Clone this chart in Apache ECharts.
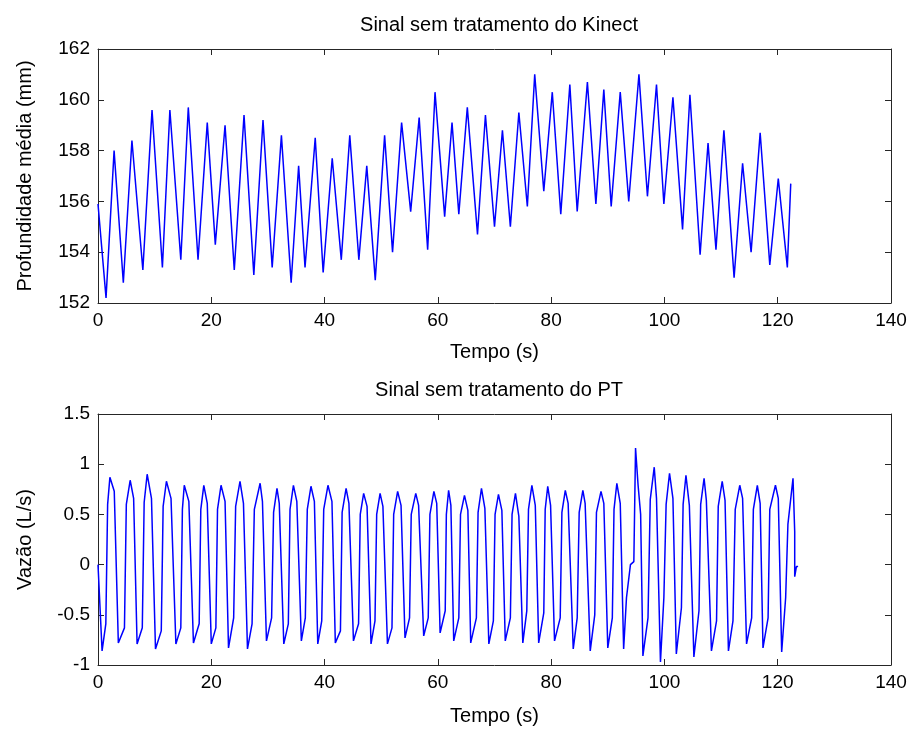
<!DOCTYPE html>
<html>
<head>
<meta charset="utf-8">
<script src="https://cdn.jsdelivr.net/npm/echarts@6/dist/echarts.min.js"></script>
<style>
  html, body { margin: 0; padding: 0; background: #fff; }
  #chart { width: 916px; height: 735px; }
</style>
</head>
<body>
<div id="chart"></div>
<script>
// Kinect signal: turning points (time s, depth mm)
const kinectT = [0, 1.42, 2.84, 4.47, 5.99, 7.92, 9.54, 11.37, 12.69, 14.62, 15.94, 17.66, 19.29, 20.71, 22.43, 24.06, 25.78, 27.51, 29.13, 30.75,
  32.38, 34.1, 35.42, 36.55, 38.35, 39.75, 41.35, 42.95, 44.45, 46.05, 47.45, 48.95, 50.6, 52.0, 53.6, 55.2, 56.7, 58.2, 59.5, 61.2,
  62.5, 63.7, 65.2, 67.0, 68.4, 70.0, 71.4, 72.8, 74.3, 75.8, 77.1, 78.7, 80.2, 81.7, 83.3, 84.6, 86.4, 87.9, 89.3, 90.6,
  92.2, 93.7, 95.5, 97.0, 98.6, 99.9, 101.5, 103.2, 104.5, 106.3, 107.7, 109.1, 110.5, 112.3, 113.8, 115.3, 116.9, 118.6, 120.1, 121.7, 122.3]
const kinectV = [155.9, 152.2, 158.0, 152.8, 158.4, 153.3, 159.6, 153.4, 159.6, 153.7, 159.7, 153.7, 159.1, 154.3, 159.0, 153.3, 159.4, 153.1, 159.2, 153.4,
  158.6, 152.8, 157.4, 153.4, 158.5, 153.2, 157.7, 153.7, 158.6, 153.7, 157.4, 152.9, 158.6, 154.0, 159.1, 155.6, 159.3, 154.1, 160.3, 155.4,
  159.1, 155.5, 159.7, 154.7, 159.4, 155.0, 158.8, 155.0, 159.5, 155.8, 161.0, 156.4, 160.3, 155.5, 160.6, 155.6, 160.7, 155.9, 160.4, 155.8,
  160.3, 156.0, 161.0, 156.2, 160.6, 155.9, 160.1, 154.9, 160.2, 153.9, 158.3, 154.1, 158.8, 153.0, 157.5, 154.0, 158.7, 153.5, 156.9, 153.4, 156.7]

// PT signal: corners of each cycle (time s, flow L/s)
// per cycle: trough, end of bottom plateau, top of the steep rise, peak, end of top plateau
const ptT = [0,
  0.72, 1.38, 1.7, 2.1, 2.87,
  3.59, 4.67, 5.0, 5.68, 6.29,
  6.9, 7.82, 8.15, 8.68, 9.44,
  10.15, 11.17, 11.5, 12.08, 12.89,
  13.75, 14.62, 14.9, 15.23, 16.04,
  16.85, 17.86, 18.15, 18.68, 19.29,
  20.0, 20.81, 21.1, 21.72, 22.43,
  23.04, 23.95, 24.3, 25.07, 25.68,
  26.39, 27.2, 27.6, 28.62, 29.03,
  29.74, 30.65, 31.0, 31.6, 32.0,
  32.8, 33.6, 33.9, 34.5, 35.1,
  35.9, 36.6, 36.95, 37.6, 38.2,
  38.8, 39.5, 39.85, 40.6, 41.3,
  41.9, 42.8, 43.1, 43.8, 44.3,
  45.1, 46.0, 46.3, 46.9, 47.5,
  48.2, 48.9, 49.2, 49.8, 50.3,
  51.1, 51.9, 52.2, 52.9, 53.5,
  54.2, 55.0, 55.3, 56.1, 56.6,
  57.5, 58.3, 58.6, 59.3, 59.8,
  60.4, 61.3, 61.5, 61.9, 62.3,
  62.8, 63.7, 64.0, 64.7, 65.3,
  65.8, 66.8, 67.1, 67.7, 68.3,
  69.0, 69.8, 70.1, 70.7, 71.3,
  71.9, 72.8, 73.1, 73.7, 74.3,
  75.0, 75.7, 76.0, 76.6, 77.2,
  77.8, 78.7, 78.95, 79.4, 79.9,
  80.6, 81.6, 81.9, 82.5, 83.0,
  83.9, 84.6, 84.95, 85.6, 86.0,
  86.9, 87.7, 88.0, 88.8, 89.3,
  90.0, 90.8, 91.1, 91.6, 92.2,
  92.8, 93.3, 94.0, 94.6, 94.9, 95.35, 95.8,
  96.2, 97.1, 97.5, 98.2, 98.6,
  99.3, 99.9, 100.3, 100.9, 101.5,
  102.1, 103.0, 103.3, 103.8, 104.4,
  105.2, 106.1, 106.4, 107.0, 107.4,
  108.3, 109.2, 109.5, 110.2, 110.7,
  111.3, 112.1, 112.5, 113.3, 113.8,
  114.5, 115.4, 115.7, 116.4, 116.9,
  117.4, 118.3, 118.6, 119.6, 120.1,
  120.7, 121.4, 121.8, 122.7, 123.0, 123.0, 123.3, 123.6]
const ptV = [0.0,
  -0.86, -0.59, 0.60, 0.87, 0.73,
  -0.78, -0.63, 0.60, 0.84, 0.66,
  -0.79, -0.63, 0.62, 0.90, 0.66,
  -0.84, -0.66, 0.58, 0.83, 0.66,
  -0.79, -0.63, 0.55, 0.79, 0.63,
  -0.78, -0.59, 0.55, 0.79, 0.61,
  -0.79, -0.63, 0.55, 0.79, 0.63,
  -0.83, -0.53, 0.58, 0.83, 0.61,
  -0.84, -0.59, 0.55, 0.81, 0.63,
  -0.76, -0.53, 0.52, 0.76, 0.61,
  -0.79, -0.59, 0.55, 0.79, 0.63,
  -0.76, -0.53, 0.55, 0.78, 0.63,
  -0.79, -0.56, 0.55, 0.79, 0.63,
  -0.78, -0.66, 0.52, 0.76, 0.61,
  -0.76, -0.59, 0.50, 0.71, 0.58,
  -0.79, -0.56, 0.50, 0.71, 0.58,
  -0.79, -0.63, 0.50, 0.73, 0.59,
  -0.73, -0.53, 0.50, 0.71, 0.59,
  -0.71, -0.53, 0.50, 0.73, 0.61,
  -0.68, -0.46, 0.50, 0.74, 0.59,
  -0.76, -0.53, 0.50, 0.69, 0.54,
  -0.78, -0.53, 0.52, 0.76, 0.56,
  -0.79, -0.56, 0.50, 0.70, 0.54,
  -0.76, -0.53, 0.50, 0.71, 0.48,
  -0.78, -0.46, 0.55, 0.79, 0.59,
  -0.78, -0.48, 0.55, 0.78, 0.59,
  -0.76, -0.53, 0.52, 0.74, 0.61,
  -0.84, -0.53, 0.52, 0.74, 0.61,
  -0.86, -0.50, 0.52, 0.73, 0.61,
  -0.83, -0.53, 0.55, 0.81, 0.61,
  -0.84, -0.33, 0.0, 0.03, 1.16, 0.79, 0.50,
  -0.91, -0.53, 0.65, 0.97, 0.66,
  -0.97, -0.33, 0.60, 0.91, 0.66,
  -0.89, -0.43, 0.60, 0.89, 0.59,
  -0.92, -0.46, 0.60, 0.86, 0.64,
  -0.86, -0.56, 0.58, 0.83, 0.64,
  -0.86, -0.56, 0.55, 0.79, 0.66,
  -0.79, -0.53, 0.55, 0.79, 0.61,
  -0.83, -0.53, 0.55, 0.79, 0.66,
  -0.87, -0.33, 0.40, 0.86, 0.33, -0.12, -0.02, -0.02]

const titles = ['Sinal sem tratamento do Kinect', 'Sinal sem tratamento do PT']
const xName = 'Tempo (s)'
const yNames = ['Profundidade média (mm)', 'Vazão (L/s)']

const chart = echarts.init(document.getElementById('chart'))
const font = 'Liberation Sans, Arial, sans-serif'
const axisColor = '#262626'

function xAxes(gridIndex, gap) {
  return [
    {
      type: 'value', gridIndex, min: 0, max: 140, interval: 20, position: 'bottom',
      name: xName, nameLocation: 'middle', nameGap: gap,
      nameTextStyle: { fontFamily: font, fontSize: 20, color: '#000' },
      axisLine: { show: true, onZero: false, lineStyle: { color: axisColor, width: 1 } },
      axisTick: { inside: true, length: 6, lineStyle: { color: axisColor } },
      axisLabel: { fontFamily: font, fontSize: 19, color: '#000', margin: 8 },
      splitLine: { show: false }
    },
    {
      type: 'value', gridIndex, min: 0, max: 140, interval: 20, position: 'top',
      axisLine: { show: true, onZero: false, lineStyle: { color: axisColor, width: 1 } },
      axisTick: { inside: true, length: 6, lineStyle: { color: axisColor } },
      axisLabel: { show: false },
      splitLine: { show: false }
    }
  ]
}

function yAxes(gridIndex, min, max, interval, name, gap) {
  return [
    {
      type: 'value', gridIndex, min, max, interval, position: 'left',
      name, nameLocation: 'middle', nameGap: gap,
      nameTextStyle: { fontFamily: font, fontSize: 20, color: '#000' },
      axisLine: { show: true, onZero: false, lineStyle: { color: axisColor, width: 1 } },
      axisTick: { show: true, inside: true, length: 6, lineStyle: { color: axisColor } },
      axisLabel: { fontFamily: font, fontSize: 19, color: '#000', margin: 8 },
      splitLine: { show: false }
    },
    {
      type: 'value', gridIndex, min, max, interval, position: 'right',
      axisLine: { show: true, onZero: false, lineStyle: { color: axisColor, width: 1 } },
      axisTick: { show: true, inside: true, length: 6, lineStyle: { color: axisColor } },
      axisLabel: { show: false },
      splitLine: { show: false }
    }
  ]
}

const option = {
  backgroundColor: '#fff',
  animation: false,
  title: [
    { text: titles[0], left: 494, top: 10, textAlign: 'center',
      textStyle: { fontFamily: font, fontSize: 20, fontWeight: 'normal', color: '#000' } },
    { text: titles[1], left: 494, top: 375, textAlign: 'center',
      textStyle: { fontFamily: font, fontSize: 20, fontWeight: 'normal', color: '#000' } }
  ],
  grid: [
    { left: 98, top: 49, width: 793, height: 254 },
    { left: 98, top: 414, width: 793, height: 251 }
  ],
  xAxis: [...xAxes(0, 39), ...xAxes(1, 41)],
  yAxis: [
    ...yAxes(0, 152, 162, 2, yNames[0], 63),
    ...yAxes(1, -1, 1.5, 0.5, yNames[1], 63)
  ],
  series: [
    {
      type: 'line', xAxisIndex: 0, yAxisIndex: 0, showSymbol: false,
      lineStyle: { color: '#0000ff', width: 1.5 },
      data: kinectT.map((t, i) => [t, kinectV[i]])
    },
    {
      type: 'line', xAxisIndex: 2, yAxisIndex: 2, showSymbol: false,
      lineStyle: { color: '#0000ff', width: 1.5 },
      data: ptT.map((t, i) => [t, ptV[i]])
    }
  ]
}

chart.setOption(option)
</script>
</body>
</html>
